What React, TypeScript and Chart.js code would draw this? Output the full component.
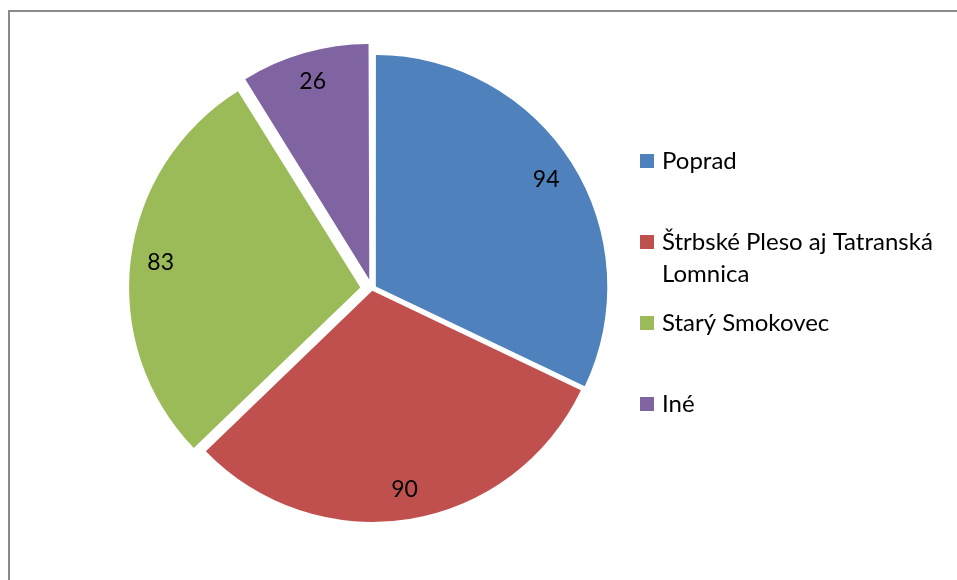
import React, { useEffect, useRef } from 'react';
import { Chart, registerables } from 'chart.js';

Chart.register(...registerables);

const categories = ['Poprad', 'Štrbské Pleso aj Tatranská Lomnica', 'Starý Smokovec', 'Iné'];
const values = [94, 90, 83, 26];
const colors = ['#4F81BD', '#C0504D', '#9BBB59', '#8064A2'];
const explodePx = [5, 2, 12, 14.5];

const LEGEND_FONT = '24px Lato';
const LABEL_FONT = '23px Lato';

function wrapText(ctx: CanvasRenderingContext2D, text: string, maxW: number): string[] {
  const words = text.split(' ');
  const lines: string[] = [];
  let cur = '';
  for (const w of words) {
    const t = cur ? cur + ' ' + w : w;
    if (ctx.measureText(t).width > maxW && cur) {
      lines.push(cur);
      cur = w;
    } else cur = t;
  }
  if (cur) lines.push(cur);
  return lines;
}

export default function App() {
  const ref = useRef<HTMLCanvasElement>(null);
  useEffect(() => {
    if (!ref.current) return;
    const total = values.reduce((a, b) => a + b, 0);
    const offsets = values.map((v, i) => {
      const c = (v / total) * 2 * Math.PI;
      return (4 * explodePx[i]) / (2 - Math.sin(Math.min(Math.PI, c)));
    });

    const labelPlugin = {
      id: 'sliceLabels',
      afterDatasetsDraw(chart: any) {
        const ctx = chart.ctx;
        const meta = chart.getDatasetMeta(0);
        ctx.save();
        ctx.font = LABEL_FONT;
        ctx.fillStyle = '#000';
        ctx.textAlign = 'center';
        ctx.textBaseline = 'middle';
        meta.data.forEach((arc: any, i: number) => {
          const { x, y, startAngle, endAngle, outerRadius } = arc.getProps(
            ['x', 'y', 'startAngle', 'endAngle', 'outerRadius'],
            true
          );
          const mid = (startAngle + endAngle) / 2;
          const d = explodePx[i] + 0.87 * outerRadius;
          ctx.fillText(String(chart.data.datasets[0].data[i]), x + Math.cos(mid) * d, y + Math.sin(mid) * d);
        });
        ctx.restore();
      },
    };

    const legendPlugin = {
      id: 'sideLegend',
      afterDraw(chart: any) {
        const ctx = chart.ctx;
        const boxX = 630;
        const textX = 652;
        const top = 149;
        const gap = 81;
        const lineH = 32;
        const box = 14;
        ctx.save();
        ctx.font = LEGEND_FONT;
        ctx.textAlign = 'left';
        ctx.textBaseline = 'middle';
        (chart.data.labels as string[]).forEach((lab, i) => {
          const cy = top + i * gap;
          ctx.fillStyle = chart.data.datasets[0].backgroundColor[i];
          ctx.fillRect(boxX, cy - box / 2, box, box);
          ctx.fillStyle = '#000';
          wrapText(ctx, lab, 293).forEach((ln, j) => ctx.fillText(ln, textX, cy + j * lineH));
        });
        ctx.restore();
      },
    };

    const chart = new Chart(ref.current, {
      type: 'pie',
      data: {
        labels: categories,
        datasets: [
          {
            data: values,
            backgroundColor: colors,
            borderWidth: 0,
            offset: offsets,
            hoverOffset: 0,
            radius: 231,
          } as any,
        ],
      },
      options: {
        animation: false,
        responsive: true,
        maintainAspectRatio: false,
        layout: { padding: { left: 0, top: 0, right: 223, bottom: 14 } },
        plugins: {
          legend: { display: false },
          tooltip: { enabled: false },
        },
        events: [],
      },
      plugins: [labelPlugin, legendPlugin],
    });
    return () => chart.destroy();
  }, []);

  return (
    <div style={{ position: 'fixed', left: 8, top: 10, right: 0, bottom: 0, overflow: 'hidden', background: '#fff' }}>
      <div
        style={{
          position: 'absolute',
          left: 0,
          top: 0,
          width: 980,
          height: 620,
          border: '2px solid #8a8a8a',
          boxSizing: 'border-box',
        }}
      >
        <div style={{ position: 'absolute', left: 0, top: 0, width: 947, height: 568 }}>
          <canvas ref={ref} />
        </div>
      </div>
    </div>
  );
}
